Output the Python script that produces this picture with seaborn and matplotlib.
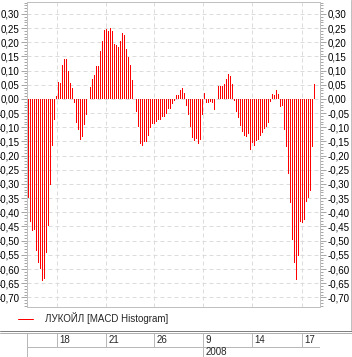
import numpy as np
import pandas as pd
import matplotlib
matplotlib.use("Agg")
import matplotlib.pyplot as plt
from matplotlib.lines import Line2D
from matplotlib.ticker import MultipleLocator, FuncFormatter
import seaborn as sns

# MACD histogram values, one per bar
macd_hist = [
    -0.348, -0.433, -0.465, -0.462, -0.537, -0.578, -0.600, -0.641, -0.637, -0.542, -0.447, -0.304,
    -0.165, -0.074,
    0.011, 0.060, 0.056, 0.120, 0.141, 0.141, 0.099, 0.056, 0.039,
    -0.013, -0.084, -0.108, -0.144, -0.133, -0.091, -0.055,
    0.0,
    0.042, 0.071, 0.085, 0.116, 0.116, 0.169, 0.205, 0.244, 0.247, 0.240, 0.251,
    0.240, 0.194, 0.191, 0.184, 0.205, 0.233, 0.226, 0.176, 0.148, 0.120, 0.067,
    0.0,
    -0.045, -0.099, -0.158, -0.165, -0.151, -0.151, -0.129, -0.101, -0.087, -0.087,
    -0.080, -0.076, -0.076, -0.062, -0.062, -0.052, -0.034, -0.034, -0.018, -0.007,
    0.015, 0.015, 0.033, 0.040, 0.022,
    -0.024, -0.058, -0.100, -0.138, -0.150, -0.140, -0.160, -0.144, -0.056,
    0.020, -0.016, -0.015, -0.010, -0.016, -0.040,
    0.0,
    0.046, 0.046, 0.045, 0.053, 0.071, 0.088, 0.081, 0.053,
    -0.009, -0.045, -0.069, -0.095, -0.118, -0.130, -0.135, -0.125, -0.180,
    -0.155, -0.165, -0.150, -0.145, -0.130, -0.121, -0.106, -0.100, -0.084,
    -0.010, 0.018, 0.014, 0.032, 0.018, -0.027, -0.024, -0.108, -0.168,
    -0.264, -0.368, -0.498, -0.578, -0.639, -0.554, -0.433, -0.437, -0.427,
    -0.362, -0.348, -0.324, -0.168, 0.053,
]
day_labels = ["18", "21", "26", "9", "14", "17"]
day_pos = [14.4, 38.9, 62.9, 87.4, 111.9, 136.9]
year_label = "2008"
year_pos = 87.4
series_name = "ЛУКОЙЛ [MACD Histogram]"

df = pd.DataFrame({"bar": np.arange(len(macd_hist)), "value": macd_hist})

sns.set_style("white")
plt.rcParams["font.family"] = ["Liberation Sans", "DejaVu Sans"]
plt.rcParams["font.size"] = 7

W, H = 352, 357
fig = plt.figure(figsize=(W / 100, H / 100), dpi=100)


def px(x0, y0, x1, y1):
    return [x0 / W, 1 - y1 / H, (x1 - x0) / W, (y1 - y0) / H]


xlim = (-0.65, 145.85)
ax = fig.add_axes(px(27, 2, 320, 306.7))
sns.barplot(data=df, x="bar", y="value", native_scale=True, width=0.5,
            color="red", saturation=1, linewidth=0, errorbar=None, ax=ax)
for p in ax.patches:
    p.set_antialiased(False)

ax.set_xlim(*xlim)
ax.set_ylim(-0.733, 0.342)
ax.set_xlabel("")
ax.set_ylabel("")
ax.set_xticks(day_pos)
ax.tick_params(axis="x", length=0, labelbottom=False)
ax.yaxis.set_major_locator(MultipleLocator(0.05))
ax.yaxis.set_minor_locator(MultipleLocator(0.01))
ax.yaxis.set_major_formatter(FuncFormatter(lambda v, p: f"{round(v, 2) + 0.0:.2f}".replace(".", ",")))
ax.tick_params(axis="y", which="both", left=True, right=True, labelleft=True, labelright=True,
               direction="out", color="#a8a8a8", labelcolor="black", width=0.72, labelsize=7)
ax.tick_params(axis="y", which="major", length=4, pad=1.2)
ax.tick_params(axis="y", which="minor", length=2)
ax.grid(True, which="major", color="#dcdcdc", linestyle=(0, (4, 3)), linewidth=0.72)
ax.set_axisbelow(True)
for s in ax.spines.values():
    s.set_visible(True)
    s.set_color("#c0c0c0")
    s.set_linewidth(0.72)

# legend under the plot
fig.legend(handles=[Line2D([], [], color="red", lw=0.72)], labels=[series_name],
           loc="center left", bbox_to_anchor=(18 / W, 1 - 318.5 / H), frameon=False,
           handlelength=15 / 9.72, handletextpad=12 / 9.72, borderpad=0, borderaxespad=0,
           fontsize=7)

# separator lines and window border
fig.add_artist(Line2D([0, 1], [1 - 330.5 / H] * 2, transform=fig.transFigure, color="#808080", lw=0.72))
fig.add_artist(Line2D([0, 1], [1 - 332.5 / H] * 2, transform=fig.transFigure, color="#b0b0b0", lw=0.72))
fig.add_artist(Line2D([350.5 / W] * 2, [1 - 330 / H, 1], transform=fig.transFigure, color="#c0c0c0", lw=0.72))

# date panel
dax = fig.add_axes(px(27, 333, 320, 357))
dax.set_xlim(*xlim)
dax.set_ylim(0, 1)
dax.axis("off")
mid = (357 - 346.7) / 24
line_c = "#b8b8b8"
dax.axhline(mid, color=line_c, lw=0.72)
dax.axvline(xlim[0] + 0.2, color=line_c, lw=0.72)
for pos, lab in zip(day_pos, day_labels):
    dax.vlines(pos, mid, 1, color=line_c, lw=0.72)
    dax.text(pos + 1.3, (1 + mid) / 2, lab, va="center", ha="left", fontsize=7)
dax.vlines(year_pos, 0, mid, color=line_c, lw=0.72)
dax.text(year_pos + 1.3, mid / 2 - 0.02, year_label, va="center", ha="left", fontsize=7)

fig.savefig("out.png", dpi=100)
